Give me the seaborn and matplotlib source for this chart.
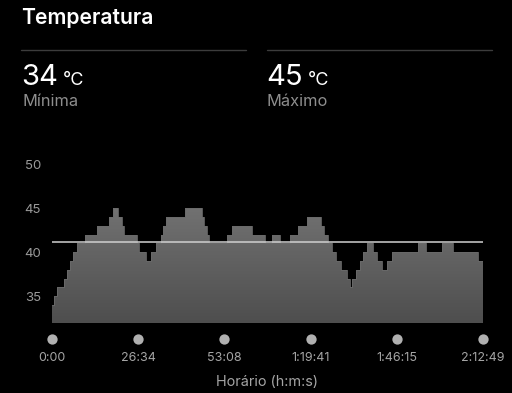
import numpy as np
import pandas as pd
import matplotlib
matplotlib.use("Agg")
import matplotlib.pyplot as plt
import matplotlib.transforms as mtransforms
import seaborn as sns

# ---- data ----
# start of each step, in minutes, and the temperature for that step
step_start_min = [0, 0.71, 1.63, 3.70, 4.71, 5.55, 6.56, 7.80, 10.17, 13.77,
                  17.66, 18.89, 20.43, 21.48, 22.19, 26.19, 26.96, 28.97, 30.66, 32.05,
                  33.44, 34.30, 35.28, 40.99, 46.13, 46.84, 47.67, 48.47, 53.84, 55.62,
                  61.63, 65.64, 67.70, 70.26, 73.34, 75.81, 78.49, 82.90, 83.82, 85.15,
                  86.19, 87.52, 88.97, 90.82, 91.83, 92.36, 93.68, 94.91, 95.93, 96.98,
                  98.83, 100.25, 101.79, 103.33, 104.68, 112.88, 115.16, 120.09, 123.67, 131.18]
temps = [34, 35, 36, 37, 38, 39, 40, 41, 42, 43,
         44, 45, 44, 43, 42, 41, 40, 39, 40, 41,
         42, 43, 44, 45, 44, 43, 42, 41, 42, 43,
         42, 41, 42, 41, 42, 43, 44, 43, 42, 41,
         40, 39, 38, 37, 36, 37, 38, 39, 40, 41,
         40, 39, 38, 39, 40, 41, 40, 41, 40, 39]
end_min = 132.82
average_temp = 41.2
min_temp, max_temp = 34, 45
y_ticks = [35, 40, 45, 50]
x_tick_min = [0, 26.57, 53.13, 79.68, 106.25, 132.82]
x_tick_labels = ["0:00", "26:34", "53:08", "1:19:41", "1:46:15", "2:12:49"]

# ---- figure ----
sns.set_theme(style="dark")
plt.rcParams["font.family"] = ["Inter", "DejaVu Sans"]
W, H = 512, 393
fig = plt.figure(figsize=(W / 100, H / 100), dpi=100, facecolor="black")

def fx(px):
    return px / W

def fy(py):
    return 1 - py / H

ax_left, ax_right = 52, 483
ax_bottom_px, ax_top_px = 322.7, 146.7
ax = fig.add_axes([fx(ax_left), fy(ax_bottom_px), (ax_right - ax_left) / W,
                   (ax_bottom_px - ax_top_px) / H])
ax.set_facecolor("black")

df = pd.DataFrame({"min": step_start_min + [end_min], "temp": temps + [temps[-1]]})

ymin, ymax = 32, 52
fill = ax.fill_between(df["min"], df["temp"], ymin, step="post", color="none", lw=0)
# vertical gradient clipped to the fill
grad = np.linspace(0, 1, 256).reshape(-1, 1)
cmap = matplotlib.colors.LinearSegmentedColormap.from_list("g", ["#4e4e4e", "#747474"])
img = ax.imshow(grad, extent=[0, end_min, ymin, 46], origin="lower", aspect="auto",
                cmap=cmap, zorder=1)
path = fill.get_paths()[0]
img.set_clip_path(path, transform=ax.transData)

sns.lineplot(data=df, x="min", y="temp", drawstyle="steps-post", color="#6a6a6a",
             lw=0.6, ax=ax, zorder=2)

ax.axhline(average_temp, color="#d0d0d0", lw=1.1, zorder=3)

ax.set_xlim(0, end_min)
ax.set_ylim(ymin, ymax)
ax.grid(False)
for s in ax.spines.values():
    s.set_visible(False)

ax.set_yticks(y_ticks)
ax.set_yticklabels([str(v) for v in y_ticks])
ax.tick_params(axis="y", length=0, pad=8, labelsize=9.5, labelcolor="#9a9a9a")
ax.set_xticks(x_tick_min)
ax.set_xticklabels(x_tick_labels)
ax.tick_params(axis="x", length=0, pad=21, labelsize=9, labelcolor="#a5a5a5")
ax.set_xlabel("Horário (h:m:s)", color="#a5a5a5", fontsize=10.4, labelpad=8)
ax.set_ylabel("")

# dots above x tick labels
trans = mtransforms.blended_transform_factory(ax.transData, ax.transAxes)
dot_y = -(339 - ax_bottom_px) / (ax_bottom_px - ax_top_px)
ax.scatter(x_tick_min, [dot_y] * len(x_tick_min), s=55, color="#b0b0b0",
           transform=trans, clip_on=False, zorder=5, linewidths=0)

# ---- header ----
fig.text(fx(21), fy(18), "Temperatura", color="white", fontsize=15.2,
         fontweight="semibold", va="center", ha="left")
fig.add_artist(plt.Line2D([fx(21), fx(246)], [fy(50), fy(50)], color="#3c3c3c", lw=1))
fig.add_artist(plt.Line2D([fx(267), fx(492)], [fy(50), fy(50)], color="#3c3c3c", lw=1))

fig.canvas.draw()
renderer = fig.canvas.get_renderer()
for x0, val, lab in [(21, min_temp, "Mínima"), (266, max_temp, "Máximo")]:
    t = fig.text(fx(x0), fy(85), str(val), color="white", fontsize=21,
                 va="baseline", ha="left")
    bb = t.get_window_extent(renderer)
    fig.text((bb.x1 + 5) / W, fy(85), "°C", color="white", fontsize=13,
             va="baseline", ha="left")
    fig.text(fx(x0 + 1), fy(101), lab, color="#8e8e8e", fontsize=11.8,
             va="center", ha="left")

fig.savefig("out.png", dpi=100, facecolor="black")
